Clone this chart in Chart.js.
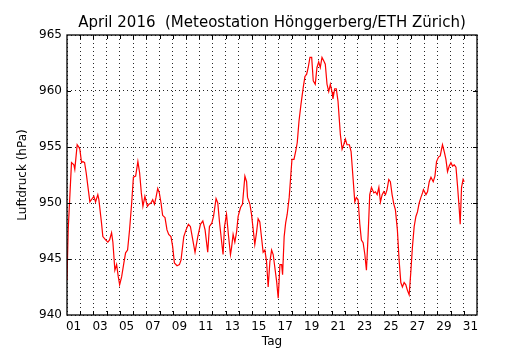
<!DOCTYPE html>
<html>
<head>
<meta charset="utf-8">
<script src="https://cdn.jsdelivr.net/npm/chart.js@4"></script>
<style>
  html, body { margin: 0; padding: 0; background: #fff; }
</style>
</head>
<body>
<canvas id="chart" width="530" height="350"></canvas>
<script>
// days since 1 April 00:00
const dayValues = [
  0.00, 0.09, 0.34, 0.52, 0.59, 0.77, 0.89, 0.97, 1.10, 1.20,
  1.33, 1.45, 1.61, 1.73, 1.91, 2.03, 2.16, 2.33, 2.41, 2.61,
  2.71, 2.92, 3.09, 3.22, 3.37, 3.47, 3.62, 3.75, 3.88, 3.98,
  4.13, 4.30, 4.43, 4.58, 4.73, 4.89, 5.02, 5.19, 5.36, 5.49,
  5.62, 5.74, 5.89, 6.08, 6.20,
  6.35, 6.48, 6.61, 6.73, 6.86, 6.98, 7.11, 7.23, 7.41, 7.56,
  7.69, 7.86, 7.99, 8.12, 8.32, 8.50, 8.62, 8.83, 9.00, 9.18,
  9.33, 9.51, 9.68, 9.89, 10.09, 10.27, 10.44, 10.64, 10.77, 10.95,
  11.08, 11.27, 11.40, 11.53, 11.70, 11.80, 11.91, 12.06, 12.21, 12.36,
  12.44, 12.56, 12.69, 12.82, 12.94, 13.12, 13.27, 13.45, 13.58, 13.65,
  13.83, 13.95, 14.08, 14.20, 14.33, 14.45, 14.58, 14.71, 14.83, 14.96,
  15.09, 15.21, 15.34, 15.47, 15.59, 15.72, 15.85, 15.97, 16.10, 16.23,
  16.30, 16.42, 16.53, 16.65, 16.80, 16.91, 17.01, 17.16, 17.29, 17.41,
  17.54, 17.69, 17.86, 17.99, 18.12, 18.24, 18.37, 18.50, 18.62,
  18.77, 18.90, 19.03, 19.15, 19.28, 19.41, 19.53, 19.66, 19.79, 19.91,
  20.04, 20.11, 20.24, 20.36, 20.49, 20.67, 20.80, 20.92, 21.05, 21.17,
  21.35, 21.48, 21.61, 21.76, 21.88, 22.01, 22.14, 22.26, 22.39, 22.52,
  22.64, 22.77, 22.89, 23.02, 23.20, 23.32, 23.45, 23.58, 23.70, 23.83,
  23.95, 24.08, 24.20, 24.33, 24.45, 24.58, 24.71, 24.83,
  24.98, 25.11, 25.24, 25.36, 25.49, 25.62, 25.74, 25.87, 26.00, 26.12,
  26.25, 26.38, 26.50, 26.63, 26.76, 26.88, 26.95, 27.14, 27.26, 27.39,
  27.52, 27.69, 27.82, 27.94, 28.09, 28.22, 28.32, 28.39, 28.52, 28.65,
  28.77, 28.90, 29.03, 29.15, 29.28, 29.41, 29.53, 29.66, 29.73, 29.83,
  29.95, 30.03
];

// Luftdruck in hPa
const pressure = [
  943.1, 947.6, 953.6, 953.4, 953.0, 955.2, 955.0, 954.8, 953.6, 953.7,
  953.6, 952.7, 951.2, 950.1, 950.4, 950.6, 950.1, 950.75, 950.3, 948.2,
  947.0, 946.7, 946.5, 946.7, 947.35, 946.5, 944.0, 944.5, 943.4, 942.7,
  943.4, 944.65, 945.55, 945.8, 947.6, 950.0, 952.3, 952.4, 953.7, 952.7,
  950.9, 949.7, 950.6, 949.7, 949.9,
  950.0, 950.3, 949.9, 950.5, 951.3, 950.9, 950.0, 948.9, 948.7, 947.6,
  947.2, 947.0, 946.1, 944.65, 944.4, 944.5, 944.9, 947.0, 947.6, 948.1,
  947.9, 946.7, 945.6, 947.0, 948.1, 948.4, 947.6, 945.6, 947.9, 948.2,
  948.8, 950.4, 950.0, 948.3, 946.45, 945.4, 947.9, 949.0, 947.1, 945.4,
  946.0, 947.2, 946.5, 947.4, 948.8, 949.6, 949.9, 952.4, 951.9, 950.5,
  949.9, 949.0, 947.6, 946.3, 947.35, 948.6, 948.3, 946.9, 945.6, 945.8,
  944.75, 942.5, 944.75, 945.8, 945.4, 944.2, 943.0, 941.5, 944.5, 944.5,
  943.6, 947.0, 948.2, 949.0, 950.5, 952.3, 953.9, 953.9, 954.6, 955.4,
  957.3, 958.8, 960.3, 961.3, 961.5, 962.1, 963.0, 963.0, 960.9,
  960.6, 962.1, 962.6, 962.1, 963.0, 962.7, 962.4, 960.6, 959.95, 960.6,
  959.9, 959.3, 960.2, 960.2, 959.1, 956.1, 954.8, 955.2, 955.7, 955.2,
  955.2, 954.6, 952.5, 950.1, 950.5, 950.3, 948.1, 946.7, 946.45, 945.4,
  944.0, 947.2, 950.75, 951.4, 950.9, 951.0, 950.75, 951.4, 950.1, 950.75,
  951.0, 950.75, 951.2, 952.1, 951.9, 950.75, 949.9, 949.4,
  947.6, 944.9, 942.9, 942.5, 942.9, 942.7, 942.2, 941.8, 943.9, 946.1,
  947.9, 948.8, 949.2, 950.0, 950.5, 950.9, 951.2, 950.75, 951.0, 951.9,
  952.3, 951.9, 952.4, 953.7, 954.1, 954.2, 954.8, 955.2, 954.6, 953.9,
  952.8, 953.3, 953.6, 953.3, 953.4, 953.2, 951.5, 949.4, 948.1, 951.4,
  952.1, 951.9
];

const dayLabels = ["01", "03", "05", "07", "09", "11", "13", "15", "17", "19",
                   "21", "23", "25", "27", "29", "31"];
const yTicks = [940, 945, 950, 955, 960, 965];

Chart.defaults.font.family = "'DejaVu Sans', sans-serif";
Chart.defaults.color = "#000";

const isHalf = (v) => Math.abs(v - Math.floor(v) - 0.5) < 1e-6;

// inward tick marks + black frame, like the matplotlib original
const frameTicks = {
  id: "frameTicks",
  afterDraw(chart) {
    const { ctx, chartArea: a, scales: { x, y } } = chart;
    ctx.save();
    ctx.strokeStyle = "#000";
    ctx.lineWidth = 1;
    ctx.beginPath();
    for (let d = 1; d < 31; d++) {
      const px = Math.round(x.getPixelForValue(d)) + 0.5;
      ctx.moveTo(px, a.bottom); ctx.lineTo(px, a.bottom - 4);
      ctx.moveTo(px, a.top); ctx.lineTo(px, a.top + 4);
    }
    yTicks.slice(1, -1).forEach((v) => {
      const py = Math.round(y.getPixelForValue(v)) + 0.5;
      ctx.moveTo(a.left, py); ctx.lineTo(a.left + 4, py);
      ctx.moveTo(a.right, py); ctx.lineTo(a.right - 4, py);
    });
    ctx.stroke();
    ctx.lineWidth = 1.3;
    ctx.strokeRect(a.left, a.top, a.right - a.left, a.bottom - a.top);
    ctx.restore();
  }
};

new Chart(document.getElementById("chart"), {
  type: "line",
  data: {
    datasets: [{
      data: dayValues.map((d, i) => ({ x: d, y: pressure[i] })),
      borderColor: "#ff0000",
      borderWidth: 1.2,
      pointRadius: 0,
      tension: 0,
      fill: false
    }]
  },
  options: {
    responsive: false,
    animation: false,
    devicePixelRatio: 1,
    layout: { padding: { left: 0, right: 53, top: 0, bottom: 0 } },
    plugins: {
      legend: { display: false },
      tooltip: { enabled: false },
      title: {
        display: true,
        fullSize: false,
        text: "April 2016  (Meteostation Hönggerberg/ETH Zürich)",
        font: { size: 15, weight: "normal" },
        color: "#000",
        padding: { top: 14, bottom: 3 }
      }
    },
    scales: {
      x: {
        type: "linear",
        min: 0,
        max: 31,
        afterFit: (s) => { s.height = 35; },
        afterBuildTicks: (s) => {
          const t = [];
          for (let d = 0; d <= 31; d++) t.push({ value: d });
          dayLabels.forEach((_, i) => t.push({ value: 2 * i + 0.5 }));
          s.ticks = t.sort((a, b) => a.value - b.value);
        },
        ticks: {
          autoSkip: false,
          maxRotation: 0,
          padding: 5,
          font: { size: 12 },
          callback: (v) => isHalf(v) ? dayLabels[Math.floor(v) / 2] : ""
        },
        grid: {
          drawTicks: false,
          color: (c) => (c.tick && !isHalf(c.tick.value)) ? "rgba(0,0,0,0.85)" : "rgba(0,0,0,0)",
          lineWidth: 1
        },
        border: { display: false, dash: [1, 3] },
        title: {
          display: true,
          text: "Tag",
          font: { size: 12 },
          padding: { top: 0, bottom: 1 }
        }
      },
      y: {
        min: 940,
        max: 965,
        afterFit: (s) => { s.width = 67; },
        afterBuildTicks: (s) => { s.ticks = yTicks.map((v) => ({ value: v })); },
        ticks: { padding: 5, font: { size: 12 } },
        grid: {
          drawTicks: false,
          color: "rgba(0,0,0,0.85)",
          lineWidth: 1
        },
        border: { display: false, dash: [1, 3] },
        title: {
          display: true,
          text: "Luftdruck (hPa)",
          font: { size: 12 },
          padding: { top: 16, bottom: 0 }
        }
      }
    }
  },
  plugins: [frameTicks]
});
</script>
</body>
</html>
